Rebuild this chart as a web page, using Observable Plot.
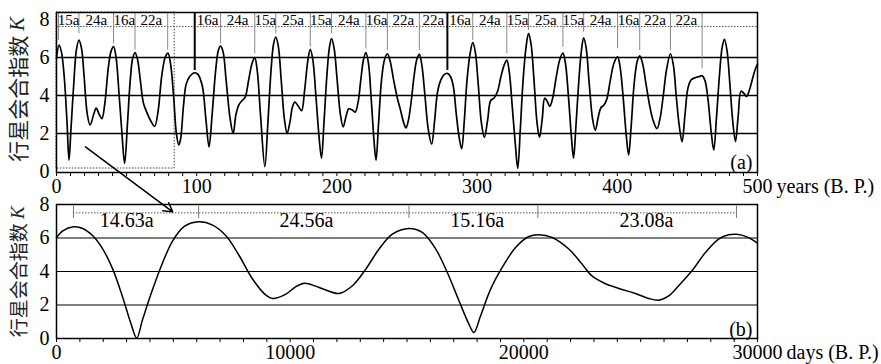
<!DOCTYPE html>
<html><head><meta charset="utf-8">
<script src="https://cdn.jsdelivr.net/npm/d3@7"></script>
<script src="https://cdn.jsdelivr.net/npm/@observablehq/plot@0.6"></script>
<style>
body{margin:0;background:#fff;}
#chart{position:relative;width:881px;height:364px;}
#chart svg text{font-family:"Liberation Serif","Times New Roman",Times,serif;}
</style></head><body><div id="chart"></div>
<script>
// ---------- Panel (a): 0–500 years B.P. ----------
const yearsA = [0,1.8,3.5,5.5,7.5,8.9,10.3,12.3,14.2,16,17.8,19.5,22,24,26.5,28.3,30.5,32.4,34.5,37,39,40.7,42.5,44.5,46.5,48.6,50.6,52.6,54.3,56,57.8,59.8,62,64.5,67,70,72.5,75,77.5,79.5,81.3,83.5,85.5,87.2,88.5,90.5,92.5,95,98.6,101,104,106.5,108.8,111,113.5,115.5,117,118.8,121,123.8,126,128,130,132,134.5,137,139.5,141.4,143.2,145.5,148.6,150.8,153,154.8,156.4,158.2,160.3,162.5,164.5,166.5,168.3,170,172.4,174.8,177,179.2,181,182.8,185,187.3,189,190.8,192.8,194.6,196.2,198,200.2,202.5,204.5,206.5,208.5,210.7,213,215,217,219,220.7,222.5,224.5,226.5,227.9,229.7,231.8,234,236,238,240.5,243,245.5,247.5,249.3,251,253,255,257,258.8,260.6,262.8,265.2,267.6,269.6,271.8,274,276.5,278.8,281,283,285.2,287.2,289,290.8,292.8,295,296.9,298.7,300.8,303,305.2,307.5,309.7,312,314.5,317,319.3,321.2,323,325.2,327.3,329,330.8,332.8,335,336.7,338.5,340.6,342.7,344.5,346.5,348.2,350,351.8,354,356.5,359,361.2,363,365.2,367.3,368.8,370.5,372.4,374.3,376,377.8,380,382.3,384.3,386.5,388.3,390.5,392.5,395,397.6,400.2,402,404.3,406.4,408.1,409.9,412,414.2,416,418,420.5,423,425.5,428.3,430.5,432.8,435.2,437.9,440,442,444.2,446.2,448.3,450.5,453,456,458.5,460.5,462.5,464.7,466.8,468.8,470.7,472.8,474.7,476.4,478.2,480.3,482.4,484.3,486.2,488.3,490.5,492.2,494.3,496.5,498.5,500];
const kA = [5.95,6.65,6.3,5.0,2.6,0.6,2.2,4.6,6.4,6.92,6.5,5.2,3.0,2.45,3.0,3.34,3.0,2.78,3.6,5.5,6.35,6.57,6.0,4.2,2.2,0.43,2.5,4.8,5.95,6.26,5.9,4.8,3.6,3.1,2.7,2.38,3.2,5.0,6.0,6.23,5.7,4.0,2.0,1.4,1.7,3.4,4.6,5.0,5.2,5.1,4.5,2.8,1.3,3.0,5.3,6.4,6.6,6.3,4.8,2.8,2.0,3.0,3.5,3.7,3.9,4.8,5.7,6.0,5.3,3.0,0.26,2.6,5.3,6.7,7.08,6.6,4.8,2.8,2.0,2.6,3.4,3.65,3.45,3.2,4.3,5.8,6.43,5.9,4.0,1.8,0.7,2.6,5.0,6.5,7.0,6.5,4.8,3.0,2.35,2.9,3.3,3.25,3.13,3.6,4.8,5.9,6.26,5.7,3.8,1.6,0.6,2.5,4.8,5.9,6.2,5.8,4.8,3.9,3.2,2.6,2.3,2.7,3.7,5.0,5.9,6.17,5.6,4.0,2.2,1.44,2.6,4.2,4.8,5.1,5.17,5.0,4.5,3.0,1.8,1.2,2.6,4.8,6.2,6.78,6.3,4.6,2.6,1.8,2.7,3.74,3.86,4.2,5.0,5.6,5.86,5.2,3.3,1.4,0.17,2.2,4.8,6.6,7.27,6.7,4.8,2.6,1.8,2.8,3.86,3.7,3.43,3.9,5.0,5.9,6.23,5.7,3.9,1.8,0.7,2.4,4.6,6.3,7.04,6.5,4.6,2.8,2.17,2.9,3.36,3.5,3.8,4.8,5.7,6.03,5.5,3.8,1.9,0.87,2.4,4.6,5.8,6.09,5.7,4.6,3.5,2.7,2.26,2.8,4.0,5.4,6.2,5.6,4.0,2.4,1.57,3.0,4.43,4.85,4.95,5.0,5.04,4.8,3.8,2.2,1.13,2.8,5.0,6.5,6.96,6.4,4.6,2.6,1.57,2.9,4.23,4.1,3.95,4.3,4.9,5.4,5.65];

// peak markers and interval labels (years)
const peakYears = [1.4,16,40.7,56,79.3,98.6,117,141.4,156.4,181,196.2,220.7,236,258.8,278.8,296.9,321.2,336.7,361.2,376,400.2,416,437.9,460.5];
const peakLineEnds = [6.9,7.25,6.72,6.4,6.4,5.32,6.72,6.19,7.25,6.54,7.25,6.46,6.37,6.37,5.32,6.89,6.19,7.42,6.54,7.33,6.46,6.37,6.37,5.4];
const broadPeakYears = [98.6, 278.8];
const intervalLabelsA = ["15a","24a","16a","22a","","16a","24a","15a","25a","15a","24a","16a","22a","22a","16a","24a","15a","25a","15a","24a","16a","22a","22a"];
const annotLineA = 7.63, intervalTextA = 7.95;
const zoomBoxA = {x1: 0, x2: 84.3, y1: 0.16};
const xTicksA = d3.range(0, 501, 10);
const xLabelsA = [0, 100, 200, 300, 400, 500];

// ---------- Panel (b): 0–30000 days B.P. ----------
const daysB = [0,270,726,1125,1553,1980,2408,2835,3192,3433,3690,4117,4545,4972,5471,6083,6682,7253,7821,8390,8962,9245,9817,10200,10600,11240,12095,12665,13235,13805,14375,15085,15655,16230,16725,17225,17650,17865,18150,18580,19075,19645,20215,20640,21210,21925,22495,22900,23450,24060,24775,25345,25770,26200,26625,27195,27770,28335,28765,29120,29545,30000];
const kB = [6.03,6.43,6.67,6.57,6.13,5.34,4.14,2.45,0.86,0.03,1.16,2.95,4.54,5.83,6.69,6.97,6.77,6.13,4.94,3.55,2.59,2.39,2.65,3.05,3.3,3.05,2.69,3.15,4.14,5.34,6.23,6.57,6.33,5.34,3.94,2.25,0.86,0.36,1.36,2.95,4.24,5.43,6.09,6.19,6.03,5.34,4.44,3.75,3.3,2.99,2.69,2.39,2.29,2.55,3.15,4.04,5.13,5.93,6.19,6.22,6.07,5.7];
const peakDaysB = [726, 6083, 15085, 20600, 29100];
const intervalLabelsB = ["14.63a", "24.56a", "15.16a", "23.08a"];
const intervalPosB = [3000, 10700, 18000, 25250];
const annotLineB = 7.5, peakTickB = [7.17, 7.9], intervalTextB = 7.05;
const xTicksB = d3.range(0, 30001, 1000);
const xLabelsB = [0, 10000, 20000, 30000];
const arrowB = {x1: 1239, y1: 11.44, x2: 4972, y2: 7.56};

const gridK = [2, 4, 6];
const yTicks = [0, 2, 4, 6, 8];

// ---------- build ----------
const FONT = '"Liberation Serif","Times New Roman",Times,serif';
const STYLE = 'font-family:"Liberation Serif","Times New Roman",Times,serif;font-size:20px;background:transparent;overflow:visible;display:block;color:#000;';
const FS = 20;
const dataA = yearsA.map((x, i) => ({x, k: kA[i]}));
const peaksA = peakYears.map((x, i) => ({x, end: peakLineEnds[i], broad: broadPeakYears.includes(x)}));
const intervalsA = intervalLabelsA.map((t, i) => ({t, x: (peakYears[i] + peakYears[i + 1]) / 2})).filter(d => d.t);
const yTopA = 8.37;

const plotA = Plot.plot({
  width: 881, height: 192,
  marginLeft: 56, marginRight: 124, marginTop: 12, marginBottom: 20,
  x: {domain: [0, 500]},
  y: {domain: [-0.05, yTopA]},
  style: STYLE,
  marks: [
    Plot.ruleY(gridK, {stroke: "#000", strokeWidth: 1.5}),
    Plot.rect([zoomBoxA], {x1: "x1", x2: "x2", y1: "y1", y2: () => yTopA, fill: "none", stroke: "#444", strokeWidth: 1, strokeDasharray: "1.5,1.5"}),
    Plot.ruleY([annotLineA], {x1: 0, x2: 500, stroke: "#555", strokeWidth: 1, strokeDasharray: "1.5,1.5"}),
    Plot.ruleX(peaksA.filter(d => !d.broad), {x: "x", y1: "end", y2: () => yTopA, stroke: "#888", strokeWidth: 1}),
    Plot.ruleX(peaksA.filter(d => d.broad), {x: "x", y1: "end", y2: () => yTopA, stroke: "#000", strokeWidth: 2}),
    Plot.text(intervalsA, {x: "x", y: () => intervalTextA, text: "t", fontSize: 15, fontFamily: FONT}),
    Plot.line(dataA, {x: "x", y: "k", curve: "catmull-rom", stroke: "#000", strokeWidth: 1.7}),
    Plot.frame({stroke: "#000", strokeWidth: 1.5}),
    Plot.axisY({ticks: yTicks, tickSize: 0, tickPadding: 7, label: null, fontSize: FS, fontFamily: FONT}),
    Plot.axisX({ticks: xTicksA, tickSize: 4, tickPadding: 2, tickFormat: d => xLabelsA.includes(d) ? String(d) : "", label: null, fontSize: FS, fontFamily: FONT}),
    Plot.text([{x: 500, t: "years (B. P.)"}], {x: "x", text: "t", frameAnchor: "bottom", lineAnchor: "top", textAnchor: "start", dy: 6, dx: 19, fontSize: FS, fontFamily: FONT}),
    Plot.text(["(a)"], {frameAnchor: "bottom-right", dx: -5, dy: -4, lineAnchor: "bottom", textAnchor: "end", fontSize: FS, fontFamily: FONT})
  ]
});

const dataB = daysB.map((x, i) => ({x, k: kB[i]}));
const intervalsB = intervalLabelsB.map((t, i) => ({t, x: intervalPosB[i]}));

const plotB = Plot.plot({
  width: 881, height: 172,
  marginLeft: 56, marginRight: 124, marginTop: 12, marginBottom: 26,
  x: {domain: [0, 30000]},
  y: {domain: [0, 8]},
  style: STYLE,
  marks: [
    Plot.ruleY(gridK, {stroke: "#000", strokeWidth: 1.2}),
    Plot.ruleY([annotLineB], {x1: peakDaysB[0], x2: peakDaysB[peakDaysB.length - 1], stroke: "#555", strokeWidth: 1, strokeDasharray: "1.5,1.5"}),
    Plot.ruleX(peakDaysB, {y1: () => peakTickB[0], y2: () => peakTickB[1], stroke: "#777", strokeWidth: 1}),
    Plot.text(intervalsB, {x: "x", y: () => intervalTextB, text: "t", fontSize: FS, fontFamily: FONT}),
    Plot.line(dataB, {x: "x", y: "k", curve: "catmull-rom", stroke: "#000", strokeWidth: 1.5}),
    Plot.frame({stroke: "#000", strokeWidth: 1.5}),
    Plot.axisY({ticks: yTicks, tickSize: 0, tickPadding: 7, label: null, fontSize: FS, fontFamily: FONT}),
    Plot.axisX({ticks: xTicksB, tickSize: 4, tickPadding: 2, tickFormat: d => xLabelsB.includes(d) ? String(d) : "", label: null, fontSize: FS, fontFamily: FONT}),
    Plot.text([{x: 30000, t: "days (B. P.)"}], {x: "x", text: "t", frameAnchor: "bottom", lineAnchor: "top", textAnchor: "start", dy: 6, dx: 29, fontSize: FS, fontFamily: FONT}),
    Plot.text(["(b)"], {frameAnchor: "bottom-right", dx: -5, dy: -3, lineAnchor: "bottom", textAnchor: "end", fontSize: FS, fontFamily: FONT}),
    Plot.arrow([arrowB], {x1: "x1", y1: "y1", x2: "x2", y2: "y2", stroke: "#000", strokeWidth: 1.5, headLength: 10, inset: 0})
  ]
});

function addYTitle(svg, yScale, centerValue, size) {
  const cy = yScale.apply(centerValue);
  const t = d3.select(svg).append("text")
    .attr("transform", `translate(17,${cy}) rotate(-90)`)
    .attr("text-anchor", "middle")
    .attr("dominant-baseline", "central")
    .attr("fill", "#222")
    .attr("style", `font-size:${size}px;font-family:"Noto Sans CJK SC",sans-serif;`);
  t.append("tspan").text("行星会合指数 ");
  t.append("tspan").attr("style", 'font-family:"Liberation Serif","Times New Roman",serif;font-style:italic;').text("K");
}
addYTitle(plotA, plotA.scale("y"), 4.3, 21);
addYTitle(plotB, plotB.scale("y"), 3.95, 19);

const root = document.getElementById("chart");
root.appendChild(plotA);
root.appendChild(plotB);
</script></body></html>
